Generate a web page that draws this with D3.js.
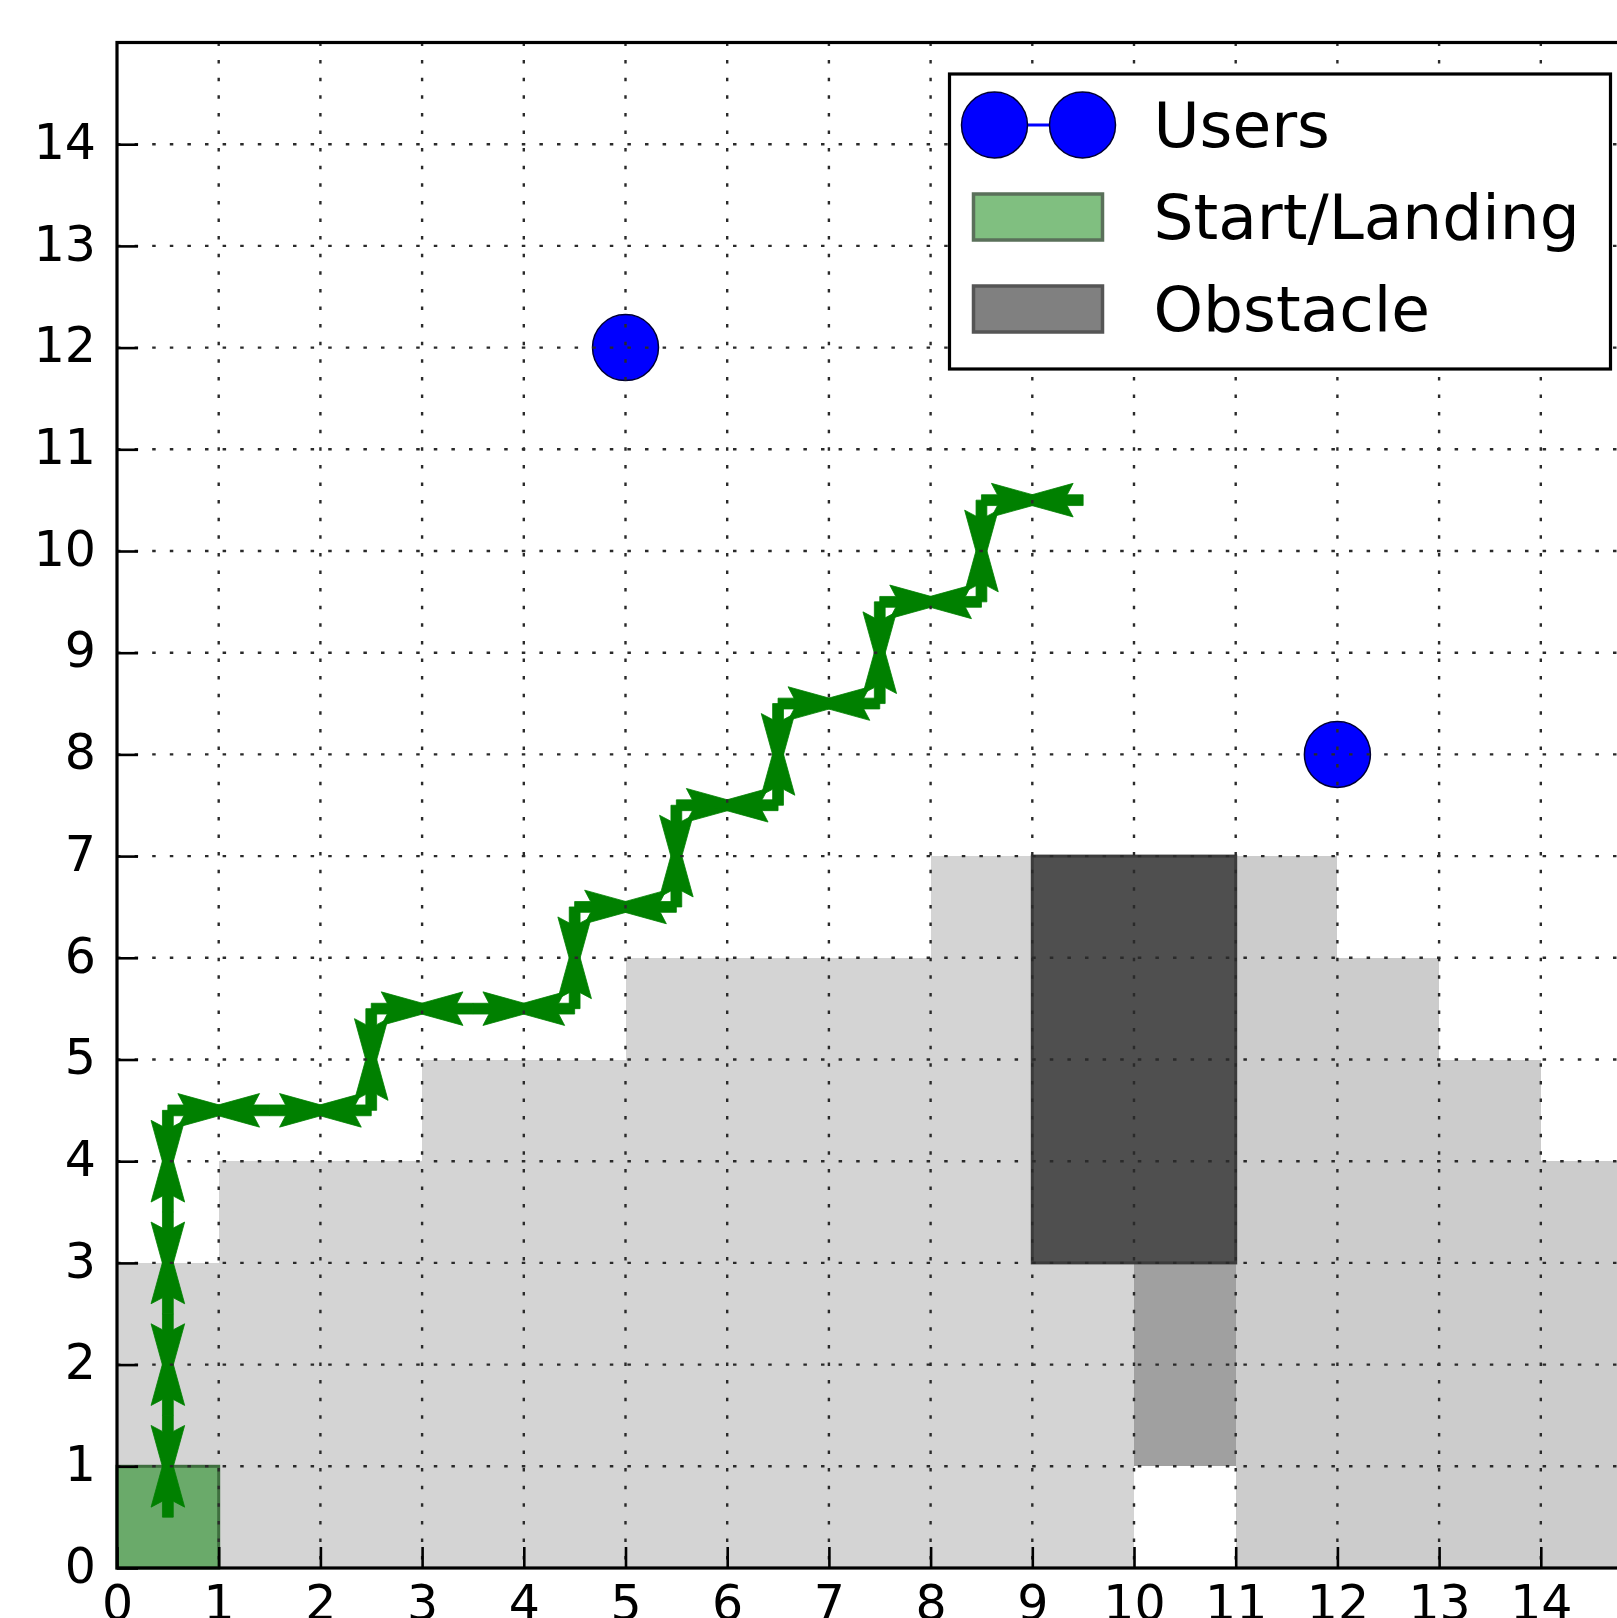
<!DOCTYPE html>
<html>
<head>
<meta charset="utf-8">
<script src="https://cdn.jsdelivr.net/npm/d3@7"></script>
<style>
  html, body { margin: 0; padding: 0; background: #fff; overflow: hidden; }
  svg { display: block; }
</style>
</head>
<body>
<svg id="chart" width="1617" height="1618"></svg>
<script>
// ---- map extent and ticks ----
const xDomain = [0, 15];
const yDomain = [0, 15];
const tickValues = [0, 1, 2, 3, 4, 5, 6, 7, 8, 9, 10, 11, 12, 13, 14];
const tickLabels = ["0", "1", "2", "3", "4", "5", "6", "7", "8", "9", "10", "11", "12", "13", "14"];

// ---- shaded cells: [column, bottom, top] ----
const coverWest = [[0, 0, 3], [1, 0, 4], [2, 0, 4], [3, 0, 5], [4, 0, 5],
                   [5, 0, 6], [6, 0, 6], [7, 0, 6], [8, 0, 7], [9, 0, 3]];
const coverEast = [[11, 0, 7], [12, 0, 6], [13, 0, 5], [14, 0, 4]];
const shadowCells = [[10, 1, 3]];

// ---- obstacle and start/landing pad: [x0, x1, y0, y1] ----
const obstacles = [[9, 11, 3, 7]];
const startPads = [[0, 1, 0, 1]];

// ---- ground users ----
const users = [[5, 12], [12, 8]];

// ---- UAV route (cell centres), flown out and back ----
const route = [
  [0.5, 0.5], [0.5, 1.5], [0.5, 2.5], [0.5, 3.5], [0.5, 4.5],
  [1.5, 4.5], [2.5, 4.5], [2.5, 5.5], [3.5, 5.5], [4.5, 5.5],
  [4.5, 6.5], [5.5, 6.5], [5.5, 7.5], [6.5, 7.5], [6.5, 8.5],
  [7.5, 8.5], [7.5, 9.5], [8.5, 9.5], [8.5, 10.5], [9.5, 10.5]
];

// ---- legend entries ----
const legendLabels = ["Users", "Start/Landing", "Obstacle"];

// ---- layout ----
const unit = 101.7;
const padLeft = 117, padTop = 42.5;
const svg = d3.select("#chart");
const FONT = "DejaVu Sans, Bitstream Vera Sans, sans-serif";

const x = d3.scaleLinear().domain(xDomain).range([padLeft, padLeft + unit * (xDomain[1] - xDomain[0])]);
const y = d3.scaleLinear().domain(yDomain).range([padTop + unit * (yDomain[1] - yDomain[0]), padTop]);

const plot = svg.append("g");

function cellRect(g, cells, fill) {
  g.selectAll(null).data(cells).join("rect")
    .attr("x", d => x(d[0]))
    .attr("y", d => y(d[2]))
    .attr("width", d => x(d[0] + 1) - x(d[0]))
    .attr("height", d => y(d[1]) - y(d[2]))
    .attr("fill", fill)
    .attr("shape-rendering", "crispEdges");
}

cellRect(plot, coverWest, "#d4d4d4");
cellRect(plot, coverEast, "#cccccc");
cellRect(plot, shadowCells, "#a0a0a0");

function boxRect(g, boxes, fill, stroke, sw, opacity) {
  g.selectAll(null).data(boxes).join("rect")
    .attr("x", d => x(d[0]))
    .attr("y", d => y(d[3]))
    .attr("width", d => x(d[1]) - x(d[0]))
    .attr("height", d => y(d[2]) - y(d[3]))
    .attr("fill", fill)
    .attr("fill-opacity", opacity == null ? 1 : opacity)
    .attr("stroke", stroke)
    .attr("stroke-width", sw);
}

boxRect(plot, obstacles, "#4f4f4f", "#3c3c3c", 3);
boxRect(plot, startPads, "#008000", "#3f6f3f", 3, 0.5);

// ---- route arrows: each leg drawn outbound and inbound, the two heads overlapping mid-leg ----
const shaftHalf = 5.4, barbAt = 10, notchAt = 16, headHalf = 16.8, overshoot = 20;
function arrowPath(ax, ay, bx, by) {
  const dx = bx - ax, dy = by - ay;
  const half = Math.hypot(dx, dy);
  const L = half + overshoot;
  const ux = dx / half, uy = dy / half, nx = -uy, ny = ux;
  const pt = (a, n) => [ax + ux * a + nx * n, ay + uy * a + ny * n];
  const pts = [
    pt(0, shaftHalf), pt(notchAt, shaftHalf), pt(barbAt, headHalf),
    pt(L, 0),
    pt(barbAt, -headHalf), pt(notchAt, -shaftHalf), pt(0, -shaftHalf)
  ];
  return "M" + pts.map(p => p[0].toFixed(2) + "," + p[1].toFixed(2)).join("L") + "Z";
}
const legs = d3.pairs(route);
const arrows = [];
legs.forEach(([a, b]) => {
  const m = [(a[0] + b[0]) / 2, (a[1] + b[1]) / 2];
  arrows.push([a, m]);
  arrows.push([b, m]);
});
plot.append("g").selectAll("path").data(arrows).join("path")
  .attr("d", d => arrowPath(x(d[0][0]), y(d[0][1]), x(d[1][0]), y(d[1][1])))
  .attr("fill", "#008000")
  .attr("stroke", "#008000")
  .attr("stroke-width", 0.8)
  .attr("stroke-linejoin", "miter");

// ---- users ----
plot.append("g").selectAll("circle").data(users).join("circle")
  .attr("cx", d => x(d[0]))
  .attr("cy", d => y(d[1]))
  .attr("r", 33)
  .attr("fill", "#0000ff")
  .attr("stroke", "#000033")
  .attr("stroke-width", 1.5);

// ---- dotted grid over the map ----
const gridVals = tickValues.filter(v => v > 0).concat([15]);
const grid = svg.append("g")
  .attr("stroke", "#2a2a2a")
  .attr("stroke-width", 2.4)
  .attr("stroke-dasharray", "3.5,14.1");
grid.selectAll(".gx").data(gridVals).join("line")
  .attr("class", "gx")
  .attr("x1", d => x(d)).attr("x2", d => x(d))
  .attr("y1", y(yDomain[1])).attr("y2", y(yDomain[0]));
grid.selectAll(".gy").data(gridVals).join("line")
  .attr("class", "gy")
  .attr("y1", d => y(d)).attr("y2", d => y(d))
  .attr("x1", x(xDomain[0])).attr("x2", x(xDomain[1]));

// ---- axes with inward ticks ----
const yAxis = d3.axisLeft(y).tickValues(tickValues)
  .tickFormat((d, i) => tickLabels[i]).tickSize(-21).tickSizeOuter(0).tickPadding(21);
const xAxis = d3.axisBottom(x).tickValues(tickValues)
  .tickFormat((d, i) => tickLabels[i]).tickSize(-21).tickSizeOuter(0).tickPadding(17);

const gy = svg.append("g").attr("transform", `translate(${x(xDomain[0])},0)`).call(yAxis);
const gx = svg.append("g").attr("transform", `translate(0,${y(yDomain[0])})`).call(xAxis);
[gx, gy].forEach(g => {
  g.select(".domain").remove();
  g.selectAll(".tick line").attr("stroke", "#000").attr("stroke-width", 2.6);
  g.selectAll(".tick text")
    .attr("font-family", FONT).attr("font-size", 49).attr("fill", "#000");
});
gy.selectAll(".tick text").attr("dy", "0.29em");

// ---- frame ----
svg.append("rect")
  .attr("x", x(xDomain[0])).attr("y", y(yDomain[1]))
  .attr("width", x(xDomain[1]) - x(xDomain[0]))
  .attr("height", y(yDomain[0]) - y(yDomain[1]))
  .attr("fill", "none").attr("stroke", "#000").attr("stroke-width", 3.2);

// ---- legend ----
const lgW = 661, lgH = 295;
const lgX = x(xDomain[1]) - 32 - lgW, lgY = y(yDomain[1]) + 31.5;
const lg = svg.append("g").attr("transform", `translate(${lgX},${lgY})`);
lg.append("rect").attr("width", lgW).attr("height", lgH)
  .attr("fill", "#fff").attr("stroke", "#000").attr("stroke-width", 3.2);

const rowY = [51, 143, 235];
const handleX0 = 24, handleX1 = 153, textX = 204;

// users handle: two markers joined by a line
lg.append("line")
  .attr("x1", handleX0 + 21).attr("x2", handleX1 - 20)
  .attr("y1", rowY[0]).attr("y2", rowY[0])
  .attr("stroke", "#0000ff").attr("stroke-width", 3);
lg.selectAll(".lm").data([handleX0 + 21, handleX1 - 20]).join("circle")
  .attr("class", "lm")
  .attr("cx", d => d).attr("cy", rowY[0]).attr("r", 33)
  .attr("fill", "#0000ff").attr("stroke", "#000033").attr("stroke-width", 1.5);

// patch handles
lg.append("rect")
  .attr("x", handleX0).attr("y", rowY[1] - 23)
  .attr("width", handleX1 - handleX0).attr("height", 46)
  .attr("fill", "#80bf80").attr("stroke", "#5a705a").attr("stroke-width", 3.5);
lg.append("rect")
  .attr("x", handleX0).attr("y", rowY[2] - 23)
  .attr("width", handleX1 - handleX0).attr("height", 46)
  .attr("fill", "#808080").attr("stroke", "#555555").attr("stroke-width", 3.5);

lg.selectAll("text").data(legendLabels).join("text")
  .attr("x", textX)
  .attr("y", (d, i) => rowY[i] + 22)
  .attr("font-family", FONT).attr("font-size", 63).attr("fill", "#000")
  .text(d => d);
</script>
</body>
</html>
